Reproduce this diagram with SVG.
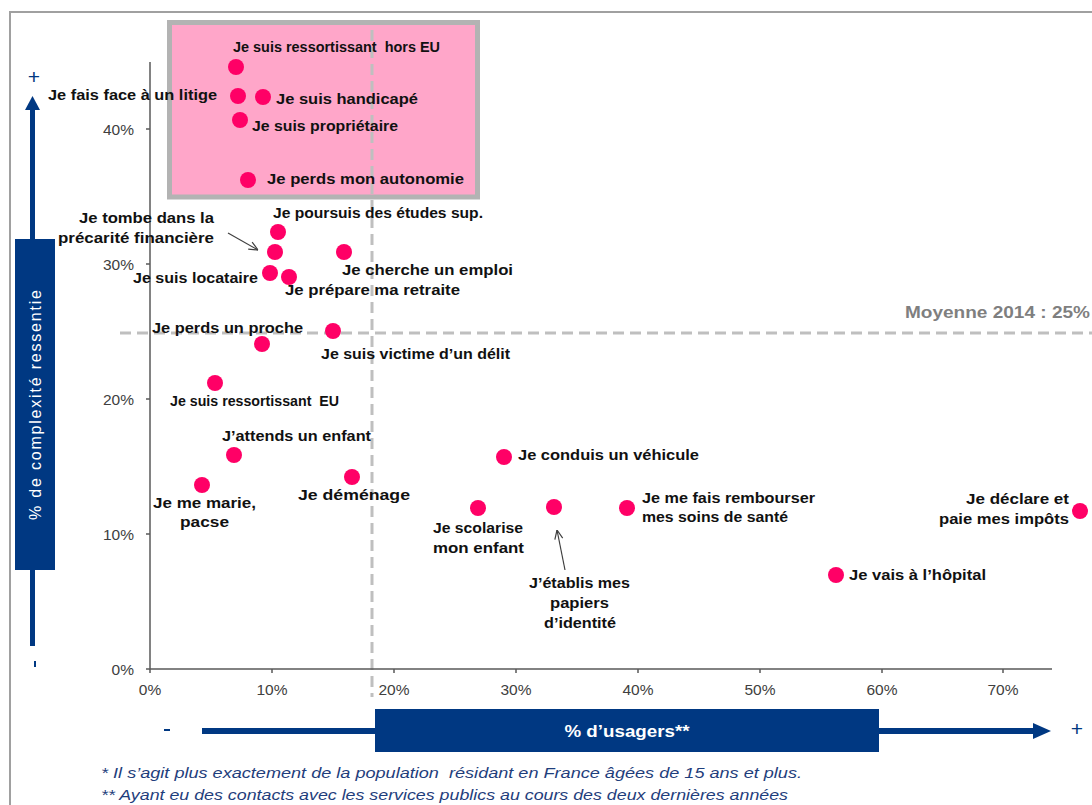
<svg xmlns="http://www.w3.org/2000/svg" width="1092" height="805" viewBox="0 0 1092 805">
<defs>
<style>
.lbl{font-family:"Liberation Sans",Arial,sans-serif;font-weight:bold;font-size:15px;fill:#111;white-space:pre}
.tick{font-family:"Liberation Sans",Arial,sans-serif;font-size:15.5px;fill:#404040}
.dot{fill:#ff0066}
.axis{stroke:#595959;stroke-width:1.5;fill:none}
.dash{stroke:#bfbfbf;stroke-width:3;stroke-dasharray:11 6;fill:none}
.navy{fill:#003882}
.foot{font-family:"Liberation Sans",Arial,sans-serif;font-style:italic;font-size:15px;fill:#1f3e7c;white-space:pre}
.conn{stroke:#404040;stroke-width:1.2;fill:none}
</style>
<marker id="open" viewBox="0 0 10 10" refX="10" refY="5" markerWidth="10" markerHeight="10" markerUnits="userSpaceOnUse" orient="auto">
<path d="M1,1 L10,5 L1,9" fill="none" stroke="#404040" stroke-width="1.2"/>
</marker>
</defs>
<rect x="0" y="0" width="1092" height="805" fill="#fff"/>
<!-- frame -->
<path d="M10,805 V12 H1092" fill="none" stroke="#a0a0a0" stroke-width="2"/>
<!-- highlight box -->
<rect x="169.5" y="22.5" width="308" height="174.5" fill="#ffa6c9" stroke="#b3b3b3" stroke-width="5"/>
<!-- average lines -->
<line class="dash" x1="372" y1="30" x2="372" y2="697"/>
<line class="dash" x1="120" y1="333" x2="1092" y2="333"/>
<text x="1090" y="318" text-anchor="end" font-family="Liberation Sans,Arial,sans-serif" font-weight="bold" font-size="16" fill="#7f7f7f" textLength="185" lengthAdjust="spacingAndGlyphs">Moyenne 2014 : 25%</text>
<!-- axes -->
<g id="axes">
<path class="axis" d="M150,62 V669 H1052"/>
<path class="axis" d="M146,669 H150 M146,534 H150 M146,399 H150 M146,264 H150 M146,129 H150"/>
<path class="axis" d="M150,669 V673 M272,669 V673 M394,669 V673 M516,669 V673 M638,669 V673 M760,669 V673 M882,669 V673 M1003,669 V673"/>
<g class="tick" text-anchor="end">
<text x="134" y="675">0%</text>
<text x="134" y="540">10%</text>
<text x="134" y="405">20%</text>
<text x="134" y="270">30%</text>
<text x="134" y="135">40%</text>
</g>
<g class="tick" text-anchor="middle">
<text x="150" y="695">0%</text>
<text x="272" y="695">10%</text>
<text x="394" y="695">20%</text>
<text x="516" y="695">30%</text>
<text x="638" y="695">40%</text>
<text x="760" y="695">50%</text>
<text x="882" y="695">60%</text>
<text x="1003" y="695">70%</text>
</g>
</g>
<!-- vertical axis title -->
<g id="y-title">
<rect class="navy" x="30" y="108" width="5" height="538"/>
<polygon class="navy" points="25,110 40,110 32.5,96"/>
<rect class="navy" x="15" y="239" width="40" height="331"/>
<text x="0" y="0" transform="translate(41,405) rotate(-90)" text-anchor="middle" font-family="Liberation Sans,Arial,sans-serif" font-size="16" fill="#fff" textLength="230" lengthAdjust="spacing">% de complexité ressentie</text>
<text x="34" y="84" text-anchor="middle" font-family="Liberation Sans,Arial,sans-serif" font-size="21" fill="#003882">+</text>
<rect class="navy" x="34" y="661" width="2" height="6"/>
</g>
<!-- horizontal axis title -->
<g id="x-title">
<rect class="navy" x="202" y="728" width="835" height="6"/>
<polygon class="navy" points="1033,723 1051,731 1033,739"/>
<rect class="navy" x="375" y="709" width="504" height="43"/>
<text x="627" y="737" text-anchor="middle" font-family="Liberation Sans,Arial,sans-serif" font-weight="bold" font-size="16" fill="#fff" textLength="125" lengthAdjust="spacingAndGlyphs">% d’usagers**</text>
<rect class="navy" x="164" y="729" width="6" height="2"/>
<text x="1077" y="736" text-anchor="middle" font-family="Liberation Sans,Arial,sans-serif" font-size="21" fill="#003882">+</text>
</g>
<!-- connectors -->
<g id="connectors">
<line class="conn" x1="228" y1="233" x2="258" y2="250" marker-end="url(#open)"/>
<line class="conn" x1="565" y1="570" x2="557" y2="530" marker-end="url(#open)"/>
</g>
<!-- nodes -->
<g id="n-hors-eu"><circle class="dot" cx="236" cy="67" r="8"/><text class="lbl" x="233" y="52" textLength="207" lengthAdjust="spacingAndGlyphs">Je suis ressortissant  hors EU</text></g>
<g id="n-litige"><circle class="dot" cx="238" cy="96" r="8"/><text class="lbl" x="48" y="100" textLength="169" lengthAdjust="spacingAndGlyphs">Je fais face à un litige</text></g>
<g id="n-handicape"><circle class="dot" cx="263" cy="97" r="8"/><text class="lbl" x="276" y="104" textLength="142" lengthAdjust="spacingAndGlyphs">Je suis handicapé</text></g>
<g id="n-proprietaire"><circle class="dot" cx="240" cy="120" r="8"/><text class="lbl" x="252" y="131" textLength="146" lengthAdjust="spacingAndGlyphs">Je suis propriétaire</text></g>
<g id="n-autonomie"><circle class="dot" cx="248" cy="180" r="8"/><text class="lbl" x="267" y="184" textLength="197" lengthAdjust="spacingAndGlyphs">Je perds mon autonomie</text></g>
<g id="n-etudes"><circle class="dot" cx="278" cy="232" r="8"/><text class="lbl" x="273" y="218" textLength="210" lengthAdjust="spacingAndGlyphs">Je poursuis des études sup.</text></g>
<g id="n-precarite"><circle class="dot" cx="275" cy="252" r="8"/><text class="lbl" x="79" y="223" textLength="135" lengthAdjust="spacingAndGlyphs">Je tombe dans la</text><text class="lbl" x="58" y="243" textLength="156" lengthAdjust="spacingAndGlyphs">précarité financière</text></g>
<g id="n-emploi"><circle class="dot" cx="344" cy="252" r="8"/><text class="lbl" x="342" y="275" textLength="171" lengthAdjust="spacingAndGlyphs">Je cherche un emploi</text></g>
<g id="n-locataire"><circle class="dot" cx="270" cy="273" r="8"/><text class="lbl" x="133" y="283" textLength="125" lengthAdjust="spacingAndGlyphs">Je suis locataire</text></g>
<g id="n-retraite"><circle class="dot" cx="289" cy="277" r="8"/><text class="lbl" x="285" y="295" textLength="175" lengthAdjust="spacingAndGlyphs">Je prépare ma retraite</text></g>
<g id="n-proche"><circle class="dot" cx="262" cy="344" r="8"/><text class="lbl" x="152" y="333" textLength="151" lengthAdjust="spacingAndGlyphs">Je perds un proche</text></g>
<g id="n-delit"><circle class="dot" cx="333" cy="331" r="8"/><text class="lbl" x="321" y="359" textLength="189" lengthAdjust="spacingAndGlyphs">Je suis victime d’un délit</text></g>
<g id="n-eu"><circle class="dot" cx="215" cy="383" r="8"/><text class="lbl" x="170" y="406" textLength="169" lengthAdjust="spacingAndGlyphs">Je suis ressortissant  EU</text></g>
<g id="n-enfant"><circle class="dot" cx="234" cy="455" r="8"/><text class="lbl" x="222" y="441" textLength="149" lengthAdjust="spacingAndGlyphs">J’attends un enfant</text></g>
<g id="n-marie"><circle class="dot" cx="202" cy="485" r="8"/><text class="lbl" x="153" y="508" textLength="103" lengthAdjust="spacingAndGlyphs">Je me marie,</text><text class="lbl" x="180" y="527" textLength="49" lengthAdjust="spacingAndGlyphs">pacse</text></g>
<g id="n-demenage"><circle class="dot" cx="352" cy="477" r="8"/><text class="lbl" x="298" y="500" textLength="112" lengthAdjust="spacingAndGlyphs">Je déménage</text></g>
<g id="n-vehicule"><circle class="dot" cx="504" cy="457" r="8"/><text class="lbl" x="518" y="460" textLength="181" lengthAdjust="spacingAndGlyphs">Je conduis un véhicule</text></g>
<g id="n-scolarise"><circle class="dot" cx="478" cy="508" r="8"/><text class="lbl" x="433" y="533" textLength="90" lengthAdjust="spacingAndGlyphs">Je scolarise</text><text class="lbl" x="433" y="553" textLength="91" lengthAdjust="spacingAndGlyphs">mon enfant</text></g>
<g id="n-papiers"><circle class="dot" cx="554" cy="507" r="8"/><text class="lbl" x="529" y="588" textLength="101" lengthAdjust="spacingAndGlyphs">J’établis mes</text><text class="lbl" x="550" y="608" textLength="59" lengthAdjust="spacingAndGlyphs">papiers</text><text class="lbl" x="544" y="628" textLength="72" lengthAdjust="spacingAndGlyphs">d’identité</text></g>
<g id="n-soins"><circle class="dot" cx="627" cy="508" r="8"/><text class="lbl" x="642" y="503" textLength="173" lengthAdjust="spacingAndGlyphs">Je me fais rembourser</text><text class="lbl" x="642" y="522" textLength="146" lengthAdjust="spacingAndGlyphs">mes soins de santé</text></g>
<g id="n-impots"><circle class="dot" cx="1080" cy="511" r="8"/><text class="lbl" x="966" y="504" textLength="103" lengthAdjust="spacingAndGlyphs">Je déclare et</text><text class="lbl" x="939" y="524" textLength="130" lengthAdjust="spacingAndGlyphs">paie mes impôts</text></g>
<g id="n-hopital"><circle class="dot" cx="836" cy="575" r="8"/><text class="lbl" x="849" y="580" textLength="137" lengthAdjust="spacingAndGlyphs">Je vais à l’hôpital</text></g>
<!-- footnotes -->
<text class="foot" x="101" y="778" textLength="701" lengthAdjust="spacingAndGlyphs">* Il s’agit plus exactement de la population  résidant en France âgées de 15 ans et plus.</text>
<text class="foot" x="101" y="800" textLength="687" lengthAdjust="spacingAndGlyphs">** Ayant eu des contacts avec les services publics au cours des deux dernières années</text>
</svg>
